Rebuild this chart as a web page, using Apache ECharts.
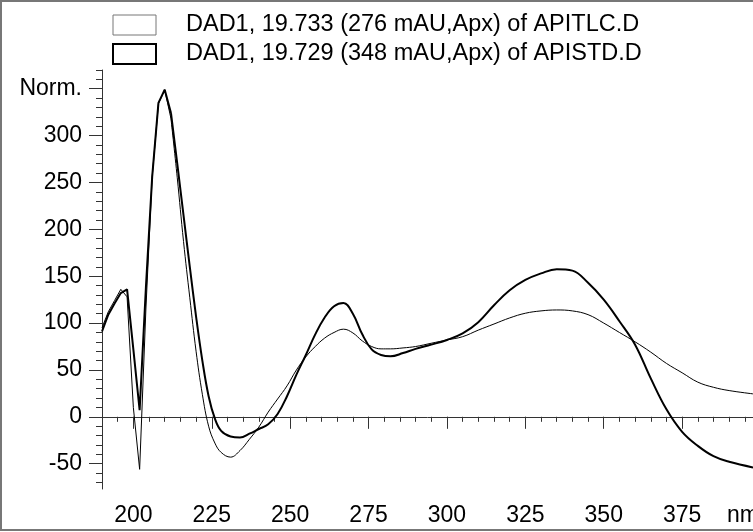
<!DOCTYPE html>
<html>
<head>
<meta charset="utf-8">
<script src="https://cdn.jsdelivr.net/npm/echarts@6/dist/echarts.min.js"></script>
<style>
  html, body { margin: 0; padding: 0; background: #fff; }
  #chart { width: 753px; height: 532px; }
</style>
</head>
<body>
<div id="chart"></div>
<script>
// Spectrum names shown in the legend
const tlcName = 'DAD1, 19.733 (276 mAU,Apx) of APITLC.D';
const stdName = 'DAD1, 19.729 (348 mAU,Apx) of APISTD.D';

// Short-wavelength region, sampled every 2 nm (drawn as straight segments)
const nmSharp  = [190, 192, 194, 196, 198, 200, 202, 204, 206, 208, 210, 212];
const tlcSharp = [95, 112, 124, 136, 128, 10, -56, 115, 256, 334, 349, 318];
const stdSharp = [91, 109, 121, 132, 136, 72, 7, 138, 256, 335, 349, 324];

// Remaining spectrum (drawn smoothed)
const nmSmooth  = [212, 214, 216, 218, 220, 222, 224, 226, 228, 231, 234, 237, 240, 243, 246, 249,
                   252, 255, 258, 261, 264, 267, 270, 273, 276, 279, 282, 286, 290, 295, 300, 305,
                   310, 315, 320, 325, 330, 335, 340, 345, 350, 355, 360, 365, 370, 375, 380, 385,
                   390, 397.6];
const tlcSmooth = [318, 255, 187, 127, 70, 24, -10, -28, -38, -43, -36, -24, -11, 5, 19, 33,
                   50, 64, 75, 84, 90, 93.5, 89.5, 81, 75, 72.5, 72.5, 73.5, 75, 78.5, 82, 85.5,
                   92.5, 99, 105.5, 110.5, 113, 114, 113, 109, 100, 90, 80, 69, 57, 47, 37, 31.5,
                   28, 24.5];
const stdSmooth = [324, 270, 215, 160, 107, 60, 22, -2, -15, -21, -22, -18, -13, -8, 3, 22,
                   45, 66, 88, 106, 118, 121.5, 110, 88, 72, 66, 64.5, 68, 72.5, 77, 82, 89,
                   101, 119, 135, 146, 153, 157.5, 156, 143, 125, 102, 77, 41, 8, -16, -31, -42,
                   -48, -54];

// Axis ranges and tick positions
const xMin = 190, xMax = 397.6;
const yMin = -77, yMax = 370;
const xMajor = [200, 225, 250, 275, 300, 325, 350, 375];
const xMinor = [];
for (let v = 190; v <= 395; v += 5) xMinor.push(v);
const yMajor = [-50, 0, 50, 100, 150, 200, 250, 300, 350];
const yMinor = [];
for (let v = -70; v <= 370; v += 10) yMinor.push(v);

const pairs = (xs, ys) => xs.map((x, i) => [x, ys[i]]);

const FONT = "'Liberation Sans', Arial, sans-serif";
const AXIS = '#333';

const chart = echarts.init(document.getElementById('chart'), null, { renderer: 'canvas' });

const thin = { color: '#000', width: 1 };
const thick = { color: '#000', width: 2 };

chart.setOption({
  animation: false,
  backgroundColor: '#fff',
  grid: { left: 102, right: 0, top: 70, bottom: 43, containLabel: false },
  legend: {
    orient: 'vertical',
    left: 107,
    top: 8,
    itemWidth: 43,
    itemHeight: 20,
    itemGap: 5,
    icon: 'rect',
    selectedMode: false,
    textStyle: { fontFamily: FONT, fontSize: 23.5, lineHeight: 20, color: '#000', padding: [0, 0, 0, 25] },
    data: [
      { name: tlcName, itemStyle: { color: '#fff', borderColor: '#777', borderWidth: 1 } },
      { name: stdName, itemStyle: { color: '#fff', borderColor: '#000', borderWidth: 2 } }
    ]
  },
  xAxis: [
    {
      type: 'value', min: xMin, max: xMax, position: 'bottom',
      axisLine: { show: true, lineStyle: { color: AXIS, width: 1 } },
      axisTick: { show: true, customValues: xMajor, length: 12, lineStyle: { color: AXIS } },
      axisLabel: { customValues: xMajor, margin: 15, fontFamily: FONT, fontSize: 23, color: '#000' },
      splitLine: { show: false }
    },
    {
      type: 'value', min: xMin, max: xMax, position: 'bottom',
      axisLine: { show: false },
      axisTick: { show: true, customValues: xMinor, length: 5, lineStyle: { color: AXIS } },
      axisLabel: { show: false },
      splitLine: { show: false }
    }
  ],
  yAxis: [
    {
      type: 'value', min: yMin, max: yMax, position: 'left',
      axisLine: { show: true, lineStyle: { color: AXIS, width: 1 } },
      axisTick: { show: true, customValues: yMajor, length: 13, lineStyle: { color: AXIS } },
      axisLabel: {
        customValues: yMajor, margin: 20, fontFamily: FONT, fontSize: 23, color: '#000',
        formatter: v => (v === 350 ? 'Norm.' : String(v))
      },
      splitLine: { show: false }
    },
    {
      type: 'value', min: yMin, max: yMax, position: 'left',
      axisLine: { show: false },
      axisTick: { show: true, customValues: yMinor, length: 6, lineStyle: { color: AXIS } },
      axisLabel: { show: false },
      splitLine: { show: false }
    }
  ],
  series: [
    { name: tlcName, type: 'line', data: pairs(nmSharp, tlcSharp), showSymbol: false, lineStyle: thin, itemStyle: { color: '#000' }, z: 3 },
    { name: tlcName, type: 'line', data: pairs(nmSmooth, tlcSmooth), smooth: 0.4, showSymbol: false, lineStyle: thin, itemStyle: { color: '#000' }, z: 3 },
    { name: stdName, type: 'line', data: pairs(nmSharp, stdSharp), showSymbol: false, lineStyle: thick, itemStyle: { color: '#000' }, z: 4 },
    { name: stdName, type: 'line', data: pairs(nmSmooth, stdSmooth), smooth: 0.4, showSymbol: false, lineStyle: thick, itemStyle: { color: '#000' }, z: 4 }
  ],
  graphic: [
    {
      type: 'rect', silent: true, z: -1,
      shape: { x: 1, y: 1, width: 770, height: 529 },
      style: { fill: null, stroke: '#777', lineWidth: 2 }
    },
    {
      type: 'text', left: 727, top: 504, silent: true,
      style: { text: 'nm', font: "23px 'Liberation Sans', Arial, sans-serif", fill: '#000' }
    }
  ]
});
</script>
</body>
</html>
